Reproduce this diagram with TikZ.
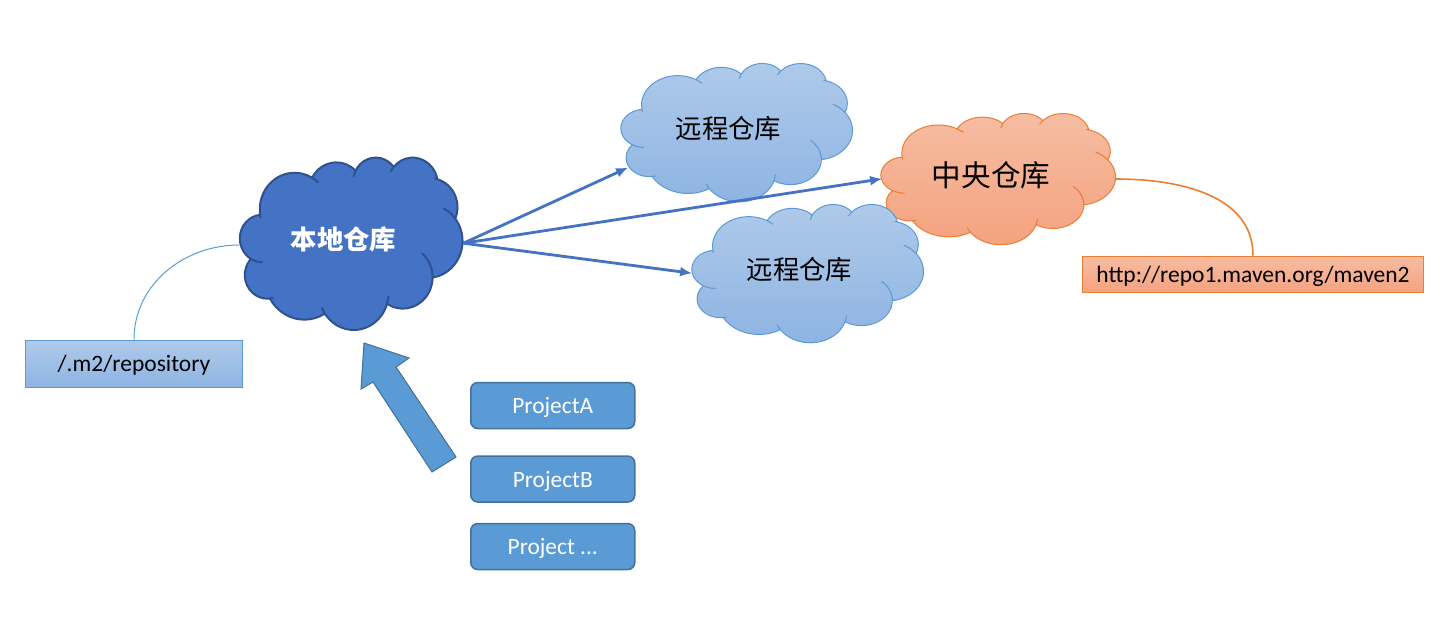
\documentclass[tikz,border=0pt]{standalone}
\usepackage{fontspec}
\setmainfont{Carlito}
\newfontfamily\cjk{Noto Sans CJK SC}
\usepackage{xcolor}
\usetikzlibrary{positioning,arrows.meta}
\definecolor{localblue}{HTML}{4472C4}
\definecolor{localedge}{HTML}{2F528F}
\definecolor{officeblue}{HTML}{5B9BD5}
\definecolor{officeedge}{HTML}{41719C}
\definecolor{officeorange}{HTML}{ED7D31}
\definecolor{skytop}{HTML}{AFCAEA}
\definecolor{skybottom}{HTML}{8EB4E2}
\definecolor{peachtop}{HTML}{F6BDA3}
\definecolor{peachbottom}{HTML}{F5A27F}
\newcommand\cloudarc[6]{%
\pgfextra{%
\pgfmathsetmacro\arcT{atan2(#1*sin(#3),#2*cos(#3))}%
\pgfmathsetmacro\arcU{atan2(#1*sin(#3+#4),#2*cos(#3+#4))}%
\pgfmathsetmacro\arcD{mod(\arcU-\arcT+720,360)}%
\global\let\arcT\arcT\global\let\arcD\arcD}%
arc[start angle=\arcT,delta angle=-#5,x radius=#1,y radius=#2]
arc[start angle=\arcT-#5,delta angle=\arcD+#5+#6,x radius=#1,y radius=#2]
arc[start angle=\arcT+\arcD+#6,delta angle=-#6,x radius=#1,y radius=#2]}
\newcommand\cloudpath{%
(39,143.7)
\cloudarc{67.53}{91.90}{-190.487}{123.780}{5}{12}
\cloudarc{53.33}{72.67}{-144.102}{89.945}{0}{0}
\cloudarc{43.65}{59.45}{-145.808}{99.723}{14}{0}
\cloudarc{48.57}{65.95}{-130.986}{117.242}{12}{0}
\cloudarc{53.33}{72.73}{-78.709}{109.027}{5}{0}
\cloudarc{67.75}{92.20}{-46.267}{130.269}{25}{0}
\cloudarc{57.85}{78.67}{0.625}{114.033}{50}{0}
\cloudarc{67.52}{92.15}{22.452}{115.173}{12}{10}
\cloudarc{77.20}{105.43}{66.243}{75.711}{0}{0}
\cloudarc{43.60}{59.18}{-274.942}{146.736}{8}{0}
\cloudarc{43.45}{59.45}{-246.829}{152.519}{30}{0}
-- cycle}
\tikzset{
cloudat/.style n args={4}{
shift={(#1,#2)},
x={#3*0.0011574pt},
y={-#4*0.0011574pt},
line join=round
},
localcloud/.style={
draw=localedge,
line width=1pt,
fill=localblue
},
remotecloud/.style={
draw=officeblue,
line width=0.5pt,
top color=skytop,
bottom color=skybottom
},
centralcloud/.style={
draw=officeorange,
line width=0.5pt,
top color=peachtop,
bottom color=peachbottom
},
cloudname/.style={
inner sep=0pt,
minimum height=60pt,
align=center,
font=\cjk\fontsize{13.2pt}{16pt}\selectfont
},
projectbox/.style={
draw=officeedge,
line width=0.75pt,
rounded corners=3.5pt,
minimum width=82pt,
minimum height=23pt,
inner sep=0pt,
text height=8pt,
text depth=0pt,
fill=officeblue,
text=white,
font=\fontsize{11.7pt}{14pt}\selectfont
},
pathbox/.style={
draw,
line width=0.5pt,
inner sep=0pt,
text height=8pt,
text depth=0pt,
font=\fontsize{11.75pt}{14pt}\selectfont
},
arrow/.style={
-{Latex[length=6pt,width=5pt]},
draw=localblue,
line width=1.4pt
}
}
\begin{document}
\begin{tikzpicture}[x=0.5pt,y=-0.5pt,node distance=12.5pt]
\useasboundingbox (0,0) rectangle (1444,623);
% clouds
\draw[cloudat={881}{113}{234}{131},centralcloud] \cloudpath;
\draw[cloudat={621}{63}{231}{138},remotecloud] \cloudpath;
\draw[cloudat={692}{204}{231}{138},remotecloud] \cloudpath;
\draw[cloudat={240}{157}{222}{172},localcloud] \cloudpath;

\node[cloudname,minimum width=119.5pt,text=white,font=\cjk\bfseries\fontsize{13.2pt}{16pt}\selectfont](local)at(343.5,239){本地仓库};
\node[cloudname,minimum width=100pt](remoteA)at(728.5,129){远程仓库};
\node[cloudname,minimum width=107pt](remoteB)at(799.5,269.5){远程仓库};
\node[cloudname,minimum width=108.5pt,font=\cjk\fontsize{14.8pt}{16pt}\selectfont](central)at(991,175){中央仓库};

\node[pathbox,draw=officeblue,top color=skytop,bottom color=skybottom,minimum width=108.5pt,minimum height=23.5pt](repo)at(134,363.5){/.m2/repository};
\node[pathbox,draw=officeorange,top color=peachtop,bottom color=peachbottom,minimum width=170.5pt,minimum height=18pt](url)at(1253,274){http://repo1.maven.org/maven2};

\node[projectbox](projA)at(552.75,405.5){ProjectA};
\node[projectbox,below=of projA,yshift=-0.5pt](projB){ProjectB};
\node[projectbox,below=of projB,yshift=2.5pt](projC){Project ...};

\draw[arrow](local.-2.4)--(remoteA.201);
\draw[arrow](local.-2.4)--(central.182);
\draw[arrow](local.-2.4)--(remoteB.182);
\draw[draw=officeblue,line width=0.5pt](repo.north)to[out=90,in=180]([shift={(7.75pt,-3pt)}]local.west);
\draw[draw=officeorange,line width=0.8pt]([shift={(8pt,-2pt)}]central.east)to[out=0,in=90](url.north);

% big arrow
\draw[draw=officeedge,line width=0.5pt,fill=officeblue,line join=miter](364,343)--(409,358)--(396,367)--(456,457)--(432,472)--(373,382)--(361,389)--cycle;
\end{tikzpicture}
\end{document}
